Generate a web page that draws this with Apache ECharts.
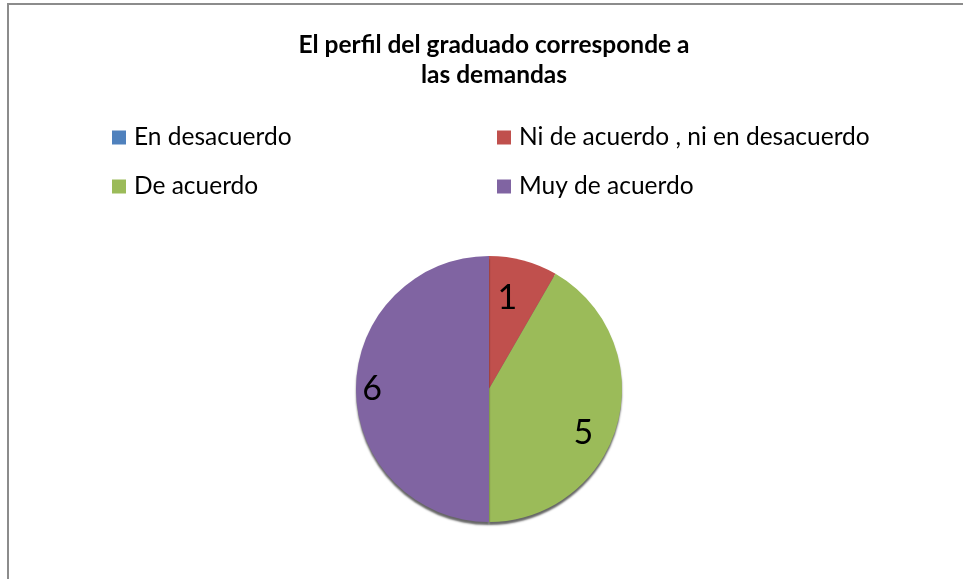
<!DOCTYPE html>
<html>
<head>
<meta charset="utf-8">
<script src="https://cdn.jsdelivr.net/npm/echarts@6/dist/echarts.min.js"></script>
<style>
  html, body { margin: 0; padding: 0; background: #fff; }
  #chart { width: 963px; height: 579px; }
</style>
</head>
<body>
<div id="chart"></div>
<script>
// datos de la encuesta
const categories = ['En desacuerdo', 'Ni de acuerdo , ni en desacuerdo', 'De acuerdo', 'Muy de acuerdo'];
const values = [0, 1, 5, 6];
const colors = ['#4F81BD', '#C0504D', '#9BBB59', '#8064A2'];
const titleText = 'El perfil del graduado corresponde a\nlas demandas';

// pequeños ajustes de las etiquetas (como el "best fit" de Excel)
const labelNudge = [[0, 0], [-9, 11], [-8, 17], [-11, 0]];

const FONT = 'Lato, "Liberation Sans", sans-serif';

const chart = echarts.init(document.getElementById('chart'));

const pieData = categories.map((name, i) => ({
  name,
  value: values[i],
  itemStyle: { color: colors[i] },
}));

const legendStyle = {
  orient: 'vertical',
  top: 120,
  itemWidth: 14,
  itemHeight: 14,
  itemGap: 24,
  icon: 'rect',
  textStyle: { fontFamily: FONT, fontSize: 24.5, color: '#000', lineHeight: 24, padding: [0, 0, 0, 3] },
};

const option = {
  backgroundColor: '#fff',
  color: colors,
  title: {
    text: titleText,
    left: 489,
    textAlign: 'center',
    top: 25,
    textStyle: { fontFamily: FONT, fontSize: 24.5, fontWeight: 'bold', color: '#000', lineHeight: 30 },
  },
  legend: [
    Object.assign({ left: 107, data: [categories[0], categories[2]] }, legendStyle),
    Object.assign({ left: 492, data: [categories[1], categories[3]] }, legendStyle),
  ],
  graphic: [{
    type: 'rect',
    shape: { x: 8, y: 4, width: 1000, height: 700 },
    style: { fill: 'none', stroke: '#8c8c8c', lineWidth: 2 },
    silent: true,
    z: -1,
  }],
  series: [
    {
      type: 'pie',
      center: [489, 389],
      radius: 133,
      startAngle: 90,
      clockwise: true,
      avoidLabelOverlap: false,
      label: { show: false },
      labelLine: { show: false },
      itemStyle: {
        borderWidth: 0,
        shadowColor: 'rgba(0,0,0,0.6)',
        shadowBlur: 2,
        shadowOffsetY: 3,
      },
      emphasis: { disabled: true },
      data: pieData,
    },
    {
      // capa transparente solo para colocar las etiquetas
      type: 'pie',
      center: [489, 389],
      radius: 206,
      startAngle: 90,
      clockwise: true,
      silent: true,
      avoidLabelOverlap: false,
      itemStyle: { color: 'rgba(0,0,0,0)', borderWidth: 0 },
      label: {
        show: true,
        position: 'inside',
        formatter: p => (p.value > 0 ? String(p.value) : ''),
        fontFamily: FONT,
        fontSize: 34,
        color: '#000',
      },
      labelLine: { show: false },
      emphasis: { disabled: true },
      data: categories.map((name, i) => ({
        name,
        value: values[i],
        label: { offset: labelNudge[i] },
      })),
    },
  ],
};

chart.setOption(option);
</script>
</body>
</html>
